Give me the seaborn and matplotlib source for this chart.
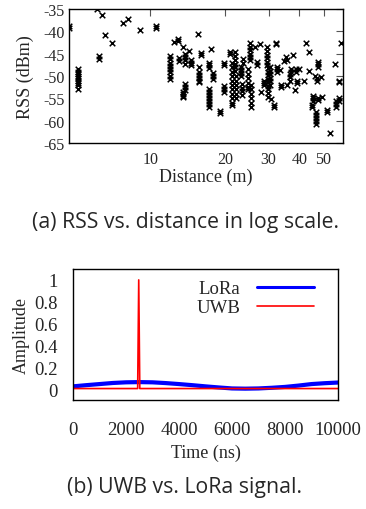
import numpy as np
import pandas as pd
import seaborn as sns
import matplotlib.pyplot as plt
from matplotlib.ticker import FixedLocator, NullLocator, FixedFormatter

# (a) RSS readings, grouped by measurement distance
cluster_dist = [4.7, 5.1, 6.1, 6.4, 6.2, 6.55, 7.0, 7.75, 8.15, 9.05, 10.5,
                12.0, 12.5, 12.9, 13.1, 13.5, 13.55, 13.75, 13.8, 14.3, 14.6,
                15.65, 15.7, 16.0, 17.2, 17.25, 17.6, 17.85, 19.1, 19.9, 19.8,
                20.9, 21.4, 22.0, 22.1, 23.2, 23.4, 23.7, 24.9, 25.3, 25.5,
                26.5, 26.9, 27.6, 28.0, 28.8, 29.5, 29.75, 30.5, 30.6, 31.6,
                32.2, 32.5, 33.4, 33.7, 34.5, 35.3, 35.6, 35.7, 36.5, 36.8,
                37.5, 38.2, 38.7, 39.1, 39.7, 41.7, 42.4, 43.8, 43.9, 44.9,
                45.3, 46.1, 46.7, 47.0, 47.6, 47.7, 48.9, 49.2, 51.5, 53.2,
                55.5, 56.3, 57.5, 57.6, 59.1]
cluster_rss = [
    [-38.9, -39.3],
    [-48.5, -49, -49.5, -50, -50.5, -51, -51.5, -52, -53],
    [-35], [-36.3], [-45.6, -46.2], [-40.9], [-42.6], [-38.1], [-37.2], [-39.6],
    [-38.9, -39.3],
    [-45.5, -46.2, -47, -47.8, -48.5, -49.2, -50, -50.6],
    [-42.4], [-41.8, -42.2], [-46, -46.6], [-43.5],
    [-53.5, -54, -54.5, -54.8],
    [-51.8, -52.5, -53.2],
    [-45, -45.8, -46.5, -47.2],
    [-44.5], [-46.5, -47, -47.5], [-40.5],
    [-48, -49, -49.7, -50.4, -51, -51.3],
    [-44.8, -45.3],
    [-47, -47.6, -48.2],
    [-52.8, -53.5, -54.2, -54.9, -55.6, -56.3, -56.9],
    [-43.9], [-49.4, -50, -50.7], [-57.8, -58.3], [-52.2, -53, -53.5], [-47, -47.5],
    [-44.6, -45.1],
    [-47, -48, -49, -50, -51, -52, -53, -54, -55, -56, -56.5],
    [-44.7, -45.5, -46.3, -47.2, -48, -48.8],
    [-50, -51, -52, -53, -54, -55],
    [-48, -48.7, -49.4, -50],
    [-51.8, -52.6, -53.4, -54.3],
    [-46.2, -47],
    [-48.5, -49.5, -50.5, -51.5, -52.5, -53],
    [-42.6, -43.4, -44.2, -45, -45.8, -46.5],
    [-52, -53, -54, -55, -56, -57],
    [-43.6], [-46.9, -47.5], [-42.8], [-53.5], [-51, -51.6, -52.1],
    [-43.6, -44.4, -45.2, -46, -46.8, -47.6],
    [-48.2, -49, -49.8, -50.6, -51.4, -52.2, -53, -53.8, -54.6],
    [-48, -48.8, -49.6, -50.4, -51.2, -52],
    [-55.2], [-56.5, -57], [-42.5, -42.9], [-48, -48.5, -49], [-48.6], [-52, -52.5],
    [-46.6], [-45.8], [-46.3], [-52], [-49.5, -50.2, -51], [-48.5, -49],
    [-45.3], [-53.2], [-48.5, -49], [-51, -51.5], [-48.5], [-51], [-42.5],
    [-44.7], [-48.8], [-56.5, -57], [-54.5, -55, -55.5], [-50],
    [-58, -58.7, -59.4, -60.1, -60.8],
    [-50.5, -51], [-46.8, -47.4, -48], [-55, -55.4], [-50.3], [-54.7],
    [-57.5, -58], [-62.7], [-47.2], [-55.5, -56.2, -57], [-51, -51.4],
    [-55, -55.5], [-42.5],
]

# (b) signal traces
lora_t = [0, 500, 1000, 1500, 2000, 2500, 3000, 3500, 4000, 4500, 5000, 5500,
          6000, 6500, 7000, 7500, 8000, 8500, 9000, 9500, 10000]
lora_amp = [0.025, 0.036, 0.046, 0.056, 0.062, 0.064, 0.062, 0.055, 0.046, 0.036,
            0.025, 0.015, 0.006, 0.004, 0.006, 0.012, 0.02, 0.032, 0.046, 0.054, 0.06]
uwb_t = [0, 2440, 2480, 2520, 10000]
uwb_amp = [0.005, 0.005, 1.0, 0.005, 0.005]

rows = [(d, r) for d, vals in zip(cluster_dist, cluster_rss) for r in vals]
rss_df = pd.DataFrame(rows, columns=['dist', 'rss'])

sns.set_style('white')
serif = ['Liberation Serif', 'DejaVu Serif']
plt.rcParams['font.family'] = serif
plt.rcParams['axes.edgecolor'] = 'black'
plt.rcParams['axes.linewidth'] = 1.0
caption_font = ['Open Sans', 'DejaVu Sans']

fig = plt.figure(figsize=(3.66, 5.10), dpi=100)

# ---- (a)
ax1 = fig.add_axes([0.1885, 0.7176, 0.749, 0.2627])
sns.scatterplot(data=rss_df, x='dist', y='rss', marker='x', s=16, color='black',
                linewidth=1.1, ax=ax1)
ax1.set_xscale('log')
ax1.set_xlim(4.7, 60)
ax1.set_ylim(-65, -35)
ax1.xaxis.set_major_locator(FixedLocator([10, 20, 30, 40, 50]))
ax1.xaxis.set_major_formatter(FixedFormatter(['10', '20', '30', '40', '50']))
ax1.xaxis.set_minor_locator(NullLocator())
ax1.set_yticks([-65, -60, -55, -50, -45, -40, -35])
ax1.set_yticklabels(['-65', '-60', '-55', '-50', '-45', '-40', '-35'])
ax1.tick_params(direction='in', length=5, width=0.8, color='#555555',
                top=True, right=True, labelsize=11.5)
ax1.tick_params(axis='x', pad=6)
ax1.tick_params(axis='y', pad=3)
ax1.set_xlabel('Distance (m)', fontsize=13, labelpad=0)
ax1.set_ylabel('RSS (dBm)', fontsize=13, labelpad=7)
fig.text(0.508, 0.563, '(a) RSS vs. distance in log scale.', ha='center', va='center',
         fontsize=15.3, family=caption_font)

# ---- (b)
ax2 = fig.add_axes([0.1995, 0.2137, 0.724, 0.2569])
sns.lineplot(x=lora_t, y=lora_amp, color='#0000ff', linewidth=3, label='LoRa', ax=ax2)
sns.lineplot(x=uwb_t, y=uwb_amp, color='#ff0000', linewidth=1.2, label='UWB', ax=ax2)
ax2.set_xlim(0, 10000)
ax2.set_ylim(-0.1, 1.1)
ax2.set_xticks([0, 2000, 4000, 6000, 8000, 10000])
ax2.set_yticks([0, 0.2, 0.4, 0.6, 0.8, 1])
ax2.set_yticklabels(['0', '0.2', '0.4', '0.6', '0.8', '1'])
ax2.tick_params(direction='out', length=7, width=0.8, color='#666666', labelsize=13.5)
ax2.tick_params(axis='x', pad=8)
ax2.tick_params(axis='y', pad=4)
ax2.set_xlabel('Time (ns)', fontsize=13, labelpad=4)
ax2.set_ylabel('Amplitude', fontsize=13, labelpad=3)
leg = ax2.legend(loc='upper right', frameon=False, markerfirst=False, fontsize=13.5,
                 handlelength=3.0, handletextpad=0.9, labelspacing=0.1,
                 borderaxespad=0.2, bbox_to_anchor=(0.95, 1.0))
leg.get_lines()[0].set_linewidth(2.2)
leg.get_lines()[1].set_linewidth(1.2)
fig.text(0.503, 0.045, '(b) UWB vs. LoRa signal.', ha='center', va='center',
         fontsize=15.3, family=caption_font)

fig.savefig('out.png', dpi=100)
